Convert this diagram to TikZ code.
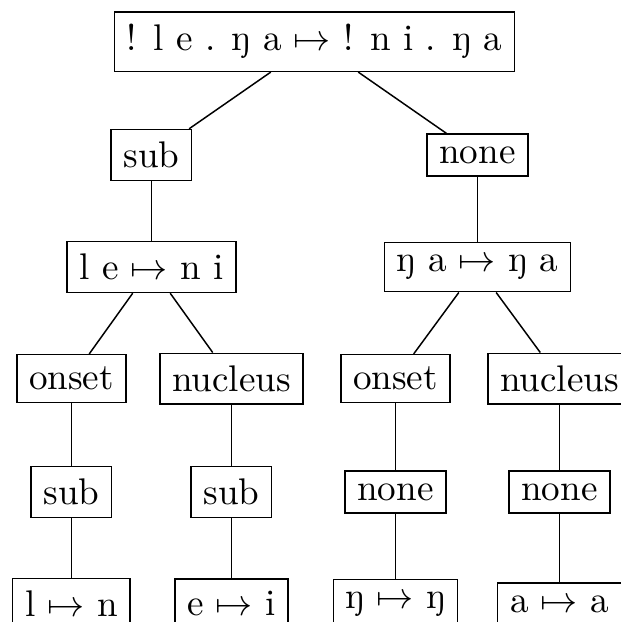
\documentclass[tikz,border=0pt]{standalone}
\usepackage{fontspec}
\usetikzlibrary{positioning}

\begin{document}
\begin{tikzpicture}[
  every node/.style={font=\normalsize, inner sep=3.33pt},
  seg/.style={draw, rectangle, line width=0.4pt},
  edge/.style={draw=black, line width=0.4pt}
]
  \clip (0,0) rectangle (5.883,-5.893);
  \useasboundingbox (0,0) rectangle (5.883,-5.893);

  % Whole word.
  \node[seg] (root) at (2.980,-0.395) {! l e . ŋ a $\mapsto$ ! n i . ŋ a};

  % Syllables.
  \node[seg] (subL) at (1.435,-1.468) {sub};
  \node[seg] (noneR) at (4.524,-1.468) {none};
  \node[seg] (sylL) at (1.435,-2.530) {l e $\mapsto$ n i};
  \node[seg] (sylR) at (4.524,-2.530) {ŋ a $\mapsto$ ŋ a};

  % Constituents.
  \node[seg] (onsetL) at (0.677,-3.588) {onset};
  \node[seg] (nucleusL) at (2.193,-3.588) {nucleus};
  \node[seg] (onsetR) at (3.747,-3.588) {onset};
  \node[seg] (nucleusR) at (5.301,-3.588) {nucleus};

  \node[seg] (subLL) at (0.677,-4.661) {sub};
  \node[seg] (subLR) at (2.193,-4.661) {sub};
  \node[seg] (noneRL) at (3.747,-4.661) {none};
  \node[seg] (noneRR) at (5.301,-4.661) {none};

  % Segments.
  \node[seg] (segLL) at (0.677,-5.722) {l $\mapsto$ n};
  \node[seg] (segLR) at (2.193,-5.722) {e $\mapsto$ i};
  \node[seg] (segRL) at (3.747,-5.722) {ŋ $\mapsto$ ŋ};
  \node[seg] (segRR) at (5.301,-5.722) {a $\mapsto$ a};

  % Edges.
  \draw[edge] (root) -- (subL);
  \draw[edge] (root) -- (noneR);
  \draw[edge] (subL) -- (sylL);
  \draw[edge] (noneR) -- (sylR);
  \draw[edge] (sylL) -- (onsetL);
  \draw[edge] (sylL) -- (nucleusL);
  \draw[edge] (sylR) -- (onsetR);
  \draw[edge] (sylR) -- (nucleusR);
  \draw[edge] (onsetL) -- (subLL);
  \draw[edge] (nucleusL) -- (subLR);
  \draw[edge] (onsetR) -- (noneRL);
  \draw[edge] (nucleusR) -- (noneRR);
  \draw[edge] (subLL) -- (segLL);
  \draw[edge] (subLR) -- (segLR);
  \draw[edge] (noneRL) -- (segRL);
  \draw[edge] (noneRR) -- (segRR);
\end{tikzpicture}
\end{document}
